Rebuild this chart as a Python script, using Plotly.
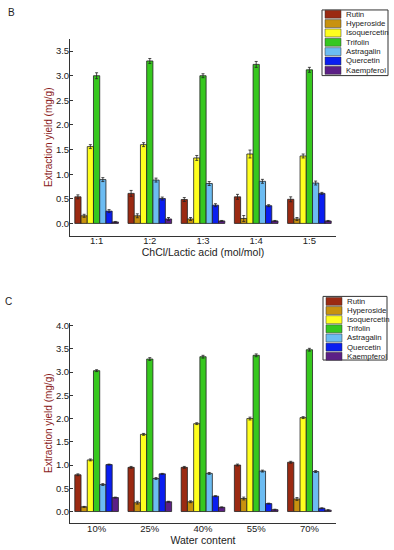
import plotly.graph_objects as go

W, H = 394, 550

series = ["Rutin", "Hyperoside", "Isoquercetin", "Trifolin", "Astragalin", "Quercetin", "Kaempferol"]
colors = ["#9b2a12", "#c8920f", "#ffff1e", "#36c81e", "#6cbcf2", "#0a1ef0", "#5c1f86"]

cats_b = ["1:1", "1:2", "1:3", "1:4", "1:5"]
vals_b = {
    "Rutin":        [0.54, 0.61, 0.485, 0.54, 0.49],
    "Hyperoside":   [0.155, 0.155, 0.09, 0.10, 0.09],
    "Isoquercetin": [1.56, 1.60, 1.33, 1.41, 1.37],
    "Trifolin":     [3.00, 3.30, 3.00, 3.23, 3.12],
    "Astragalin":   [0.89, 0.88, 0.81, 0.855, 0.82],
    "Quercetin":    [0.25, 0.505, 0.37, 0.36, 0.61],
    "Kaempferol":   [0.03, 0.09, 0.05, 0.05, 0.05],
}
err_b = {
    "Rutin":        [0.04, 0.06, 0.04, 0.05, 0.05],
    "Hyperoside":   [0.03, 0.04, 0.03, 0.06, 0.03],
    "Isoquercetin": [0.04, 0.04, 0.05, 0.08, 0.04],
    "Trifolin":     [0.06, 0.05, 0.04, 0.06, 0.05],
    "Astragalin":   [0.04, 0.04, 0.04, 0.04, 0.04],
    "Quercetin":    [0.03, 0.03, 0.03, 0.02, 0.02],
    "Kaempferol":   [0.01, 0.03, 0.01, 0.01, 0.01],
}

cats_c = ["10%", "25%", "40%", "55%", "70%"]
vals_c = {
    "Rutin":        [0.79, 0.95, 0.95, 1.00, 1.06],
    "Hyperoside":   [0.10, 0.19, 0.21, 0.28, 0.27],
    "Isoquercetin": [1.11, 1.66, 1.89, 2.00, 2.02],
    "Trifolin":     [3.03, 3.28, 3.33, 3.36, 3.48],
    "Astragalin":   [0.58, 0.71, 0.82, 0.87, 0.86],
    "Quercetin":    [1.01, 0.81, 0.33, 0.17, 0.07],
    "Kaempferol":   [0.30, 0.21, 0.09, 0.04, 0.03],
}
err_c = {
    "Rutin":        [0.02, 0.02, 0.02, 0.02, 0.02],
    "Hyperoside":   [0.01, 0.03, 0.02, 0.03, 0.03],
    "Isoquercetin": [0.02, 0.02, 0.02, 0.03, 0.02],
    "Trifolin":     [0.02, 0.03, 0.03, 0.03, 0.03],
    "Astragalin":   [0.02, 0.02, 0.02, 0.02, 0.02],
    "Quercetin":    [0.01, 0.01, 0.01, 0.01, 0.01],
    "Kaempferol":   [0.01, 0.01, 0.01, 0.01, 0.01],
}

FONT = "Liberation Sans, Arial"
fig = go.Figure()

for i, s in enumerate(series):
    for cats, vals, errs, xa, ya in [
        (cats_b, vals_b, err_b, "x", "y"),
        (cats_c, vals_c, err_c, "x2", "y2"),
    ]:
        fig.add_trace(go.Bar(
            x=cats, y=vals[s], name=s, xaxis=xa, yaxis=ya, showlegend=False,
            marker=dict(color=colors[i], line=dict(color="#222222", width=0.8)),
            error_y=dict(type="data", array=errs[s], color="#222222", thickness=0.8, width=1.5),
            offsetgroup=s,
        ))

xl, xr = 70 / W, 336 / W
def ydom(top_px, bot_px):
    return [1 - bot_px / H, 1 - top_px / H]

axis_font = dict(family=FONT, size=9.5, color="#222222")
common_x = dict(showline=True, linecolor="#333333", linewidth=1, ticks="", showgrid=False,
                zeroline=False, tickfont=axis_font, domain=[xl, xr], range=[-0.5, 4.5],
                ticklabelstandoff=-4)
common_y = dict(showline=True, linecolor="#333333", linewidth=1, ticks="inside", ticklen=3,
                tickcolor="#333333", showgrid=False, zeroline=False, tickfont=axis_font,
                tickformat=".1f", dtick=0.5, ticklabelstandoff=-2,
                title=dict(text="Extraction yield (mg/g)",
                           font=dict(family=FONT, size=10, color="#8b1c1c"),
                           standoff=1))

# custom compact legends (drawn in paper pixels)
shapes, annotations = [], []
def px_x(v):
    return v / W
def px_y(v):
    return 1 - v / H

for (bx0, by0, bx1, by1, first, step) in [(322, 7, 388, 73, 11.3, 9.4), (323, 295, 387, 359, 300.0, 9.2)]:
    shapes.append(dict(type="rect", xref="paper", yref="paper",
                       x0=px_x(bx0), x1=px_x(bx1), y0=px_y(by1), y1=px_y(by0),
                       line=dict(color="#333333", width=1), fillcolor="white", layer="above"))
    for i, s in enumerate(series):
        cy = first + i * step
        shapes.append(dict(type="rect", xref="paper", yref="paper",
                           x0=px_x(bx0 + 3), x1=px_x(bx0 + 19), y0=px_y(cy + 4), y1=px_y(cy - 4),
                           line=dict(color="#333333", width=0.5), fillcolor=colors[i], layer="above"))
        annotations.append(dict(text=s, x=px_x(bx0 + 22), y=px_y(cy), xref="paper", yref="paper",
                                showarrow=False, xanchor="left", yanchor="middle",
                                font=dict(family=FONT, size=7.8, color="#222222")))

annotations += [
    dict(text="B", x=6 / W, y=1 - 10 / H, xref="paper", yref="paper", showarrow=False,
         xanchor="left", yanchor="middle", font=dict(family=FONT, size=10, color="#222222")),
    dict(text="C", x=3 / W, y=1 - 300 / H, xref="paper", yref="paper", showarrow=False,
         xanchor="left", yanchor="middle", font=dict(family=FONT, size=10, color="#222222")),
]

fig.update_layout(
    width=W, height=H, margin=dict(l=0, r=0, t=0, b=0),
    paper_bgcolor="white", plot_bgcolor="white",
    barmode="group", bargap=0.18, bargroupgap=0,
    showlegend=False,
    font=dict(family=FONT, color="#222222"),
    xaxis=dict(**common_x, anchor="y",
               title=dict(text="ChCl/Lactic acid (mol/mol)",
                          font=dict(family=FONT, size=10.5, color="#222222"),
                          standoff=3)),
    yaxis=dict(**common_y, anchor="x", domain=ydom(36, 234), range=[-0.25, 3.75]),
    xaxis2=dict(**common_x, anchor="y2",
                title=dict(text="Water content",
                           font=dict(family=FONT, size=10.5, color="#222222"),
                           standoff=3)),
    yaxis2=dict(**common_y, anchor="x2", domain=ydom(322, 523), range=[-0.25, 4.05]),
    shapes=shapes,
    annotations=annotations,
)

fig.write_html("out.html", config={"displayModeBar": False},
               post_script="document.body.style.margin='0px';document.body.style.overflow='hidden';")
